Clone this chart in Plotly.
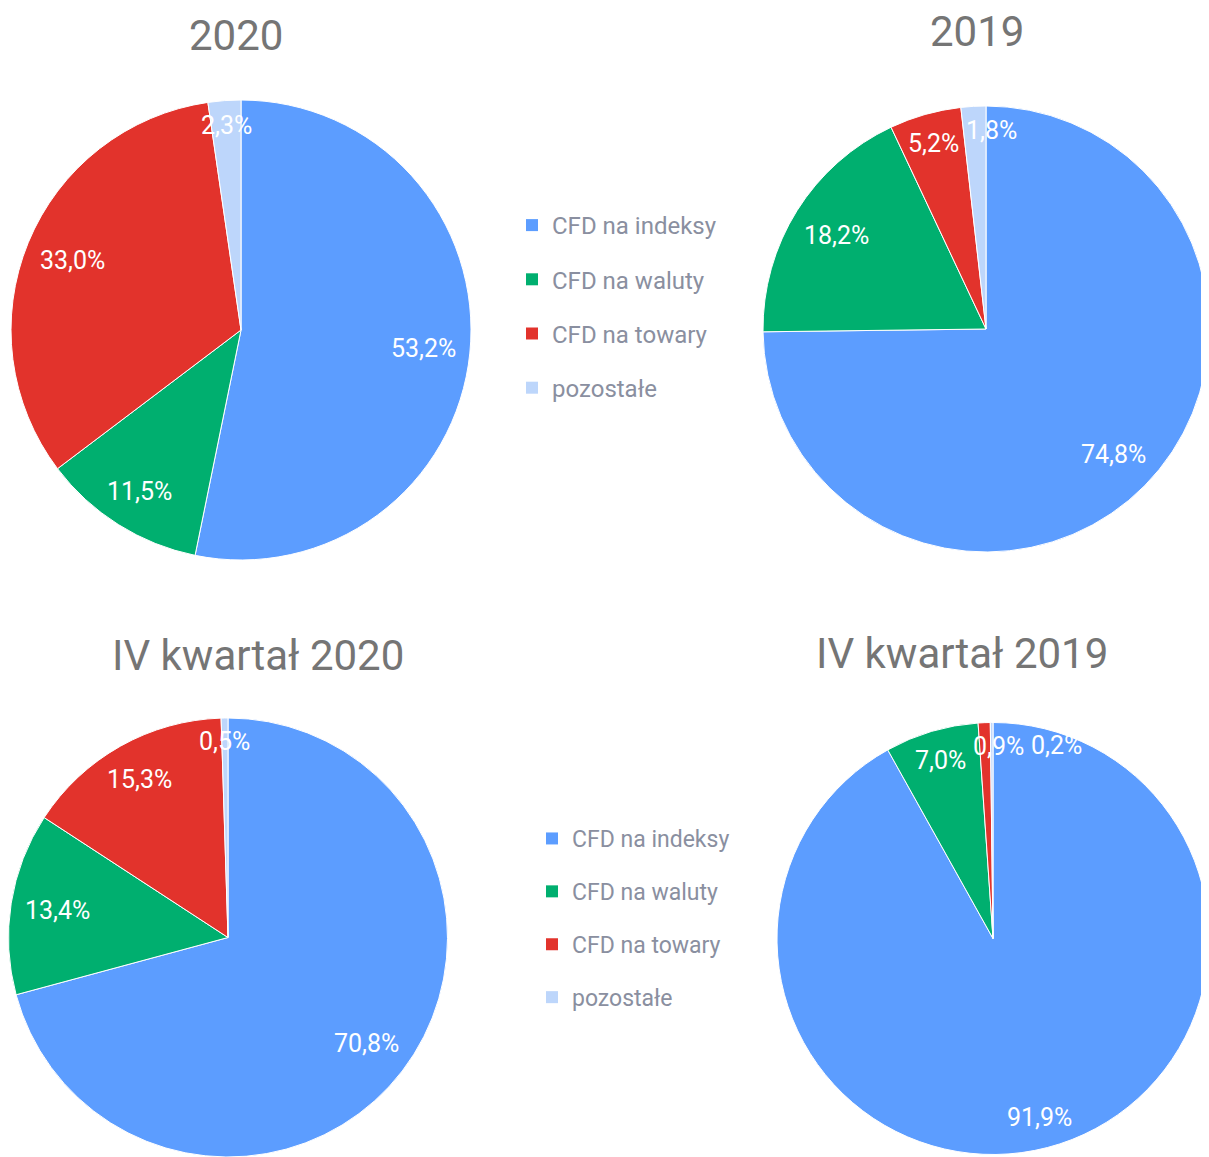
import math
import plotly.graph_objects as go

CATEGORIES = ["CFD na indeksy", "CFD na waluty", "CFD na towary", "pozostałe"]
COLORS = ["#5C9DFF", "#00AF6F", "#E2332C", "#BDD6FB"]

SHARE_2020 = [53.2, 11.5, 33.0, 2.3]
SHARE_2019 = [74.8, 18.2, 5.2, 1.8]
SHARE_Q4_2020 = [70.8, 13.4, 15.3, 0.5]
SHARE_Q4_2019 = [91.9, 7.0, 0.9, 0.2]

TITLES = ["2020", "2019", "IV kwartał 2020", "IV kwartał 2019"]

# the page body has an 8px margin, so the figure is drawn 8px short of the window
OFF = 8
W, H = 1209 - OFF, 1157 - OFF
TITLE_GRAY = "#757575"
LEGEND_TEXT = "#8A8FA0"
LABEL_SIZE = 25


def dom(x0, x1, y0, y1):
    # pixel box (figure coords, y down) -> paper domain
    return dict(x=[x0 / W, x1 / W], y=[1 - y1 / H, 1 - y0 / H])


PIES = [
    (SHARE_2020, (3, 463, 92, 552)),
    (SHARE_2019, (755, 1201, 93, 549)),
    (SHARE_Q4_2020, (0, 440, 710, 1149)),
    (SHARE_Q4_2019, (769, 1201, 712, 1149)),
]

fig = go.Figure()
for vals, box in PIES:
    fig.add_trace(go.Pie(
        labels=CATEGORIES, values=vals, sort=False, direction="clockwise", rotation=0,
        marker=dict(colors=COLORS, line=dict(color="white", width=1)),
        textinfo="none", domain=dom(*box), showlegend=False, hoverinfo="label+value",
    ))

    # slice labels, placed inside near the rim like the original chart
    x0, x1, y0, y1 = box
    cx, cy = (x0 + x1) / 2, (y0 + y1) / 2
    r = min(x1 - x0, y1 - y0) / 2
    total = sum(vals)
    acc = 0
    placed = []
    for v in vals:
        mid = (acc + v / 2) / total * 2 * math.pi
        acc += v
        txt = f"{v:.1f}%".replace(".", ",")
        hw, hh = len(txt) * 6.8, 11
        s, c = math.sin(mid), math.cos(mid)
        d = r - 12 - (hw * abs(s) + hh * abs(c))
        lx, ly = cx + d * s, cy - d * c
        for px, py in placed:
            if abs(lx - px) < 2 * hw + 4 and abs(ly - py) < 2 * hh:
                lx = px + 2 * hw + 4
        placed.append((lx, ly))
        fig.add_annotation(text=txt, x=lx / W, y=1 - ly / H, xref="paper", yref="paper",
                           showarrow=False, xanchor="center", yanchor="middle",
                           font=dict(size=LABEL_SIZE, color="white", family="Roboto"))

# legend entries (two legends, one per row of pies)
for leg in ["legend", "legend2"]:
    for i, (name, col) in enumerate(zip(CATEGORIES, COLORS)):
        fig.add_trace(go.Scatter(
            x=[None], y=[None], mode="markers", name=name, legend=leg,
            legendgroup=f"{leg}{i}",
            marker=dict(symbol="square", size=12, color=col),
        ))

title_pos = [(236, 35), (977, 32), (258, 655), (962, 653)]
for t, (x, y) in zip(TITLES, title_pos):
    fig.add_annotation(text=t, x=(x - OFF) / W, y=1 - (y - OFF) / H, xref="paper", yref="paper",
                       showarrow=False, xanchor="center", yanchor="middle",
                       font=dict(size=42, color=TITLE_GRAY, family="Roboto"))

legend_base = dict(bgcolor="rgba(0,0,0,0)", itemclick=False,
                   xanchor="left", yanchor="top", itemwidth=30)

fig.update_layout(
    width=W, height=H,
    margin=dict(l=0, r=0, t=0, b=0),
    paper_bgcolor="white", plot_bgcolor="white",
    separators=", ",
    xaxis=dict(visible=False), yaxis=dict(visible=False),
    legend=dict(x=504 / W, y=1 - 195 / H, tracegroupgap=20,
                font=dict(size=24, color=LEGEND_TEXT, family="Roboto"), **legend_base),
    legend2=dict(x=524 / W, y=1 - 809 / H, tracegroupgap=20,
                 font=dict(size=23, color=LEGEND_TEXT, family="Roboto"), **legend_base),
)

fig.write_html("out.html")
